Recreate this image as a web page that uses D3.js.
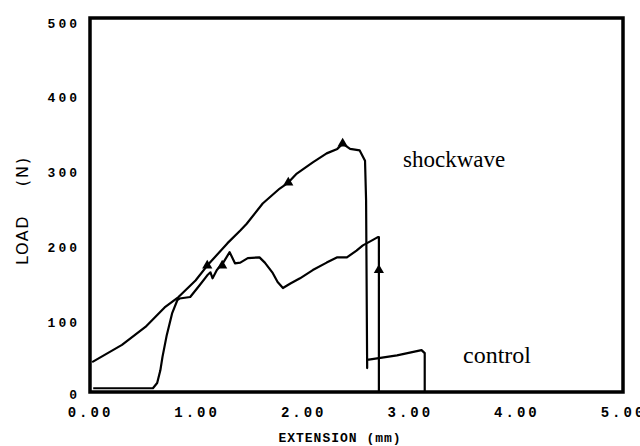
<!DOCTYPE html>
<html>
<head>
<meta charset="utf-8">
<script src="https://cdn.jsdelivr.net/npm/d3@7"></script>
<style>
  body { margin: 0; background: #fff; }
  svg { display: block; }
</style>
</head>
<body>
<div id="chart"></div>
<script>
// values: extension (mm) and load (N)
var shockExt = [0.02, 0.30, 0.52, 0.70, 0.83, 0.99, 1.10, 1.29, 1.41, 1.47, 1.62, 1.78, 1.86, 1.94, 2.09, 2.22, 2.32, 2.37, 2.44, 2.53, 2.58, 2.59, 2.60, 2.60, 2.88, 3.11, 3.14, 3.14];
var shockLoad = [40, 63, 87, 113, 127, 149, 169, 199, 216, 225, 252, 272, 280, 292, 307, 319, 325, 332, 325, 323, 309, 256, 32, 43, 49, 56, 52, 0];

var controlExt = [0.03, 0.59, 0.63, 0.66, 0.68, 0.72, 0.77, 0.82, 0.84, 0.94, 1.03, 1.10, 1.13, 1.15, 1.19, 1.25, 1.31, 1.36, 1.41, 1.48, 1.59, 1.64, 1.71, 1.76, 1.81, 1.88, 1.97, 2.09, 2.22, 2.32, 2.41, 2.50, 2.56, 2.65, 2.70, 2.71, 2.71];
var controlLoad = [5, 5, 12, 29, 47, 76, 105, 123, 125, 127, 143, 156, 160, 152, 163, 173, 187, 172, 173, 179, 180, 173, 160, 147, 139, 145, 152, 163, 173, 180, 180, 189, 196, 203, 207, 207, 0];

// triangle markers on the curves
var markExt = [1.10, 1.86, 2.37, 1.24, 2.71];
var markLoad = [169, 280, 332, 169, 163];

var xTicks = [0, 1, 2, 3, 4, 5];
var yTicks = [0, 100, 200, 300, 400, 500];

drawChart();

function drawChart() {
  var width = 640;
  var height = 446;
  var plotLeft = 90, plotRight = 623, plotTop = 18, plotBottom = 392;

  var svg = d3.select("#chart").
  append("svg").
  attr("width", width).
  attr("height", height);

  var x = d3.scaleLinear().domain([0, 5]).range([plotLeft, plotRight]);
  var y = d3.scaleLinear().domain([0, 500]).range([plotBottom, plotTop]);

  var xAxis = d3.axisBottom(x).tickValues(xTicks).tickFormat(d3.format(".2f")).tickSize(0).tickPadding(15);
  var yAxis = d3.axisLeft(y).tickValues(yTicks).tickFormat(d3.format("d")).tickSize(0).tickPadding(10);

  var gx = svg.append("g").
  attr("transform", "translate(0," + plotBottom + ")").
  call(xAxis);

  var gy = svg.append("g").
  attr("transform", "translate(" + plotLeft + ",0)").
  call(yAxis);

  gx.selectAll("text").
  attr("font-family", "'Liberation Mono', monospace").
  attr("font-weight", "bold").
  attr("font-size", 14).
  attr("letter-spacing", 3).
  attr("fill", "#000");

  gy.selectAll("text").
  attr("font-family", "'Liberation Mono', monospace").
  attr("font-weight", "bold").
  attr("font-size", 13).
  attr("letter-spacing", 3).
  attr("y", function (d) { return d === 0 ? 2 : 5; }).
  attr("fill", "#000");

  gx.select(".domain").remove();
  gy.select(".domain").remove();

  // frame
  svg.append("rect").
  attr("x", plotLeft).
  attr("y", plotTop).
  attr("width", plotRight - plotLeft).
  attr("height", plotBottom - plotTop).
  attr("fill", "none").
  attr("stroke", "#000").
  attr("stroke-width", 3.5);

  var line = d3.line().
  x(function (d) { return x(d[0]); }).
  y(function (d) { return y(d[1]); });

  var shock = d3.zip(shockExt, shockLoad);
  var control = d3.zip(controlExt, controlLoad);

  svg.append("path").
  datum(shock).
  attr("d", line).
  attr("fill", "none").
  attr("stroke", "#000").
  attr("stroke-width", 2.2).
  attr("stroke-linejoin", "round");

  svg.append("path").
  datum(control).
  attr("d", line).
  attr("fill", "none").
  attr("stroke", "#000").
  attr("stroke-width", 2.2).
  attr("stroke-linejoin", "round");

  svg.selectAll(".mark").
  data(d3.zip(markExt, markLoad)).
  enter().
  append("path").
  attr("class", "mark").
  attr("d", d3.symbol().type(d3.symbolTriangle).size(45)).
  attr("transform", function (d) {
    return "translate(" + x(d[0]) + "," + y(d[1]) + ")";
  }).
  attr("fill", "#000");

  // series labels
  svg.append("text").
  text("shockwave").
  attr("x", 403).
  attr("y", 167).
  attr("font-family", "'Liberation Serif', serif").
  attr("font-size", 23);

  svg.append("text").
  text("control").
  attr("x", 463).
  attr("y", 363).
  attr("font-family", "'Liberation Serif', serif").
  attr("font-size", 24);

  // axis titles
  svg.append("text").
  text("EXTENSION (mm)").
  attr("x", 340).
  attr("y", 442).
  attr("text-anchor", "middle").
  attr("font-family", "'Liberation Mono', monospace").
  attr("font-weight", "bold").
  attr("font-size", 13).
  attr("letter-spacing", 1);

  svg.append("text").
  text("LOAD").
  attr("transform", "translate(28, 240) rotate(-90)").
  attr("text-anchor", "middle").
  attr("font-family", "'DejaVu Sans', sans-serif").
  attr("font-size", 16).
  attr("letter-spacing", 1.5);

  svg.append("text").
  text("(N)").
  attr("transform", "translate(28, 171) rotate(-90)").
  attr("text-anchor", "middle").
  attr("font-family", "'DejaVu Sans', sans-serif").
  attr("font-size", 16).
  attr("letter-spacing", 2);
}
</script>
</body>
</html>
